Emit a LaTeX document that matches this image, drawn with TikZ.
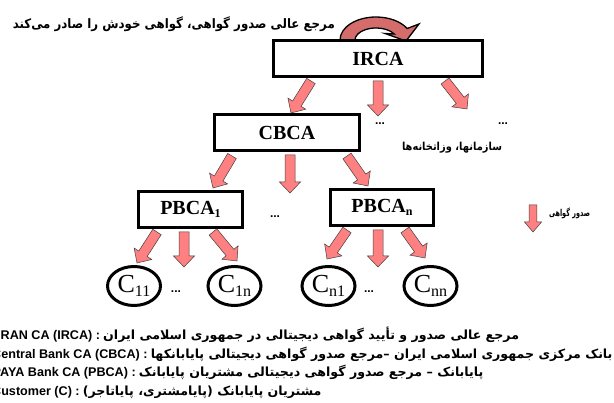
\documentclass[tikz,border=0pt]{standalone}
\usepackage{fontspec}
\usepackage{graphicx}
\setmainfont{Liberation Serif}
\newfontfamily\lat{Liberation Sans}
\newfontfamily\fa[Script=Arabic]{DejaVu Sans}
\usetikzlibrary{calc,shapes.geometric}
\TeXXeTstate=1
\definecolor{arrred}{RGB}{255,128,128}
\definecolor{curvred}{RGB}{212,108,108}
\newcommand\baw{5pt}
\newcommand\bahw{10.5pt}
\newcommand\bahl{11pt}
\newcommand\blockarr[2]{%
  \coordinate (ba-h) at ($(#2)!\bahl!(#1)$);
  \draw[barrow] ($(#1)!\baw!90:(#2)$) -- ($(ba-h)!\baw!90:(#2)$) -- ($(ba-h)!\bahw!90:(#2)$) -- (#2)
    -- ($(ba-h)!\bahw!-90:(#2)$) -- ($(ba-h)!\baw!-90:(#2)$) -- ($(#1)!\baw!-90:(#2)$) -- cycle;}
\newcommand\cname[1]{C\raisebox{-4pt}{\fontsize{16}{16}\selectfont #1}}
\newcommand\pname[1]{PBCA\raisebox{-3pt}{\fontsize{12}{12}\selectfont #1}}
\newcommand\fitw[2]{\resizebox{#1}{\height}{#2}}
\begin{document}
\begin{tikzpicture}[x=1pt,y=-1pt,
  cabox/.style={draw, line width=3pt, minimum height=36pt, inner sep=0pt, font=\fontsize{20}{20}\selectfont\bfseries},
  cnode/.style={ellipse, draw, line width=3pt, minimum width=53pt, minimum height=39pt, inner sep=0pt, font=\fontsize{26}{26}\selectfont},
  barrow/.style={fill=arrred, draw=black!75, line width=0.5pt, line join=miter},
  dots/.style={font=\lat\bfseries\fontsize{12}{12}\selectfont, inner sep=0pt},
  fatext/.style={inner sep=0pt, font=\fa\bfseries\fontsize{#1}{#1}\selectfont},
  bline/.style={inner sep=0pt, anchor=base west, font=\fontsize{12.6}{12.6}\selectfont}]
\fill[white] (0,0) rectangle (614,403);
\clip (0,0) rectangle (614,403);

% self-issuing curved arrow
\draw[fill=curvred, line width=1.3pt, line join=miter]
  (340,40) arc[start angle=180, end angle=30, x radius=36pt, y radius=23pt]
  -- (419,24) -- (406,41) -- (385,33.5)
  -- ($(376,40)+(30:21pt and 12pt)$) arc[start angle=30, end angle=180, x radius=21pt, y radius=12pt] -- cycle;

% boxes
\node[cabox, minimum width=209pt] (irca) at (378,58.5) {IRCA};
\node[cabox, minimum width=145pt] (cbca) at (287,132.5) {CBCA};
\node[cabox, minimum width=104pt] (p1) at (190.5,209.5) {\pname{1}};
\node[cabox, minimum width=103pt] (pn) at (382,207.5) {\pname{n}};

% customers
\node[cnode] (c11) at (134,286) {\cname{11}};
\node[cnode] (c1n) at (234.5,286) {\cname{1n}};
\node[cnode] (cn1) at (328.5,286) {\cname{n1}};
\node[cnode] (cnn) at (430.5,286) {\cname{nn}};

% arrow end points
\coordinate (a1s) at (311,81);  \coordinate (a1e) at (291,113);
\coordinate (a2s) at (378,81);  \coordinate (a2e) at (378,116);
\coordinate (a3s) at (445,81);  \coordinate (a3e) at (467,109);
\coordinate (b1s) at (232,156); \coordinate (b1e) at (213,188);
\coordinate (b2s) at (290,155); \coordinate (b2e) at (290,193);
\coordinate (b3s) at (347,156); \coordinate (b3e) at (368,186);
\coordinate (c1s) at (157,232); \coordinate (c1e) at (137,263);
\coordinate (c2s) at (184,232); \coordinate (c2e) at (184,267);
\coordinate (c3s) at (213,232); \coordinate (c3e) at (237,261);
\coordinate (d1s) at (347,230); \coordinate (d1e) at (327,259);
\coordinate (d2s) at (378,230); \coordinate (d2e) at (378,267);
\coordinate (d3s) at (405,230); \coordinate (d3e) at (425,258);

\blockarr{a1s}{a1e} \blockarr{a2s}{a2e} \blockarr{a3s}{a3e}
\blockarr{b1s}{b1e} \blockarr{b2s}{b2e} \blockarr{b3s}{b3e}
\blockarr{c1s}{c1e} \blockarr{c2s}{c2e} \blockarr{c3s}{c3e}
\blockarr{d1s}{d1e} \blockarr{d2s}{d2e} \blockarr{d3s}{d3e}

% legend arrow
\begin{scope}
\renewcommand\baw{3.8pt}\renewcommand\bahw{8.5pt}\renewcommand\bahl{10pt}
\coordinate (ls) at (533,205); \coordinate (le) at (533,232);
\blockarr{ls}{le}
\end{scope}
\node[fatext=9.5] (legt) at (569.5,213) {\fitw{41pt}{\beginR صدور گواهی\endR}};

% dots
\node[dots] (dt1) at (380,124) {...};
\node[dots] (dt2) at (503,124) {...};
\node[dots] (dt3) at (275,217) {...};
\node[dots] (dt4) at (176,292) {...};
\node[dots] (dt5) at (369,292) {...};

\node[fatext=11] (org) at (452,148) {\fitw{100pt}{\beginR سازمانها،  وزاتخانه‌ها\endR}};

% top caption
\node[fatext=13, anchor=east] (top) at (335,24) {\fitw{322pt}{\beginR مرجع عالی صدور گواهی، گواهی خودش را صادر می‌کند\endR}};

% bottom legend lines
\node[bline] (l1) at (-3,340) {{\lat\bfseries IRAN CA (IRCA) :} {\fa\bfseries\beginR مرجع عالی صدور و تأیید گواهی دیجیتالی در جمهوری اسلامی ایران\endR}};
\node[bline] (l2) at (-8,358.5) {{\lat\bfseries Central Bank CA (CBCA) :} {\fa\bfseries\beginR بانک مرکزی جمهوری اسلامی ایران –مرجع صدور گواهی دیجیتالی پایابانکها\endR}};
\node[bline] (l3) at (-7.5,377) {{\lat\bfseries PAYA Bank CA (PBCA) :} {\fa\bfseries\beginR پایابانک – مرجع صدور گواهی دیجیتالی مشتریان پایابانک\endR}};
\node[bline] (l4) at (-8,395.5) {{\lat\bfseries Customer (C) :} {\fa\bfseries\beginR مشتریان پایابانک (پایامشتری، پایاتاجر)\endR}};
\end{tikzpicture}
\end{document}
